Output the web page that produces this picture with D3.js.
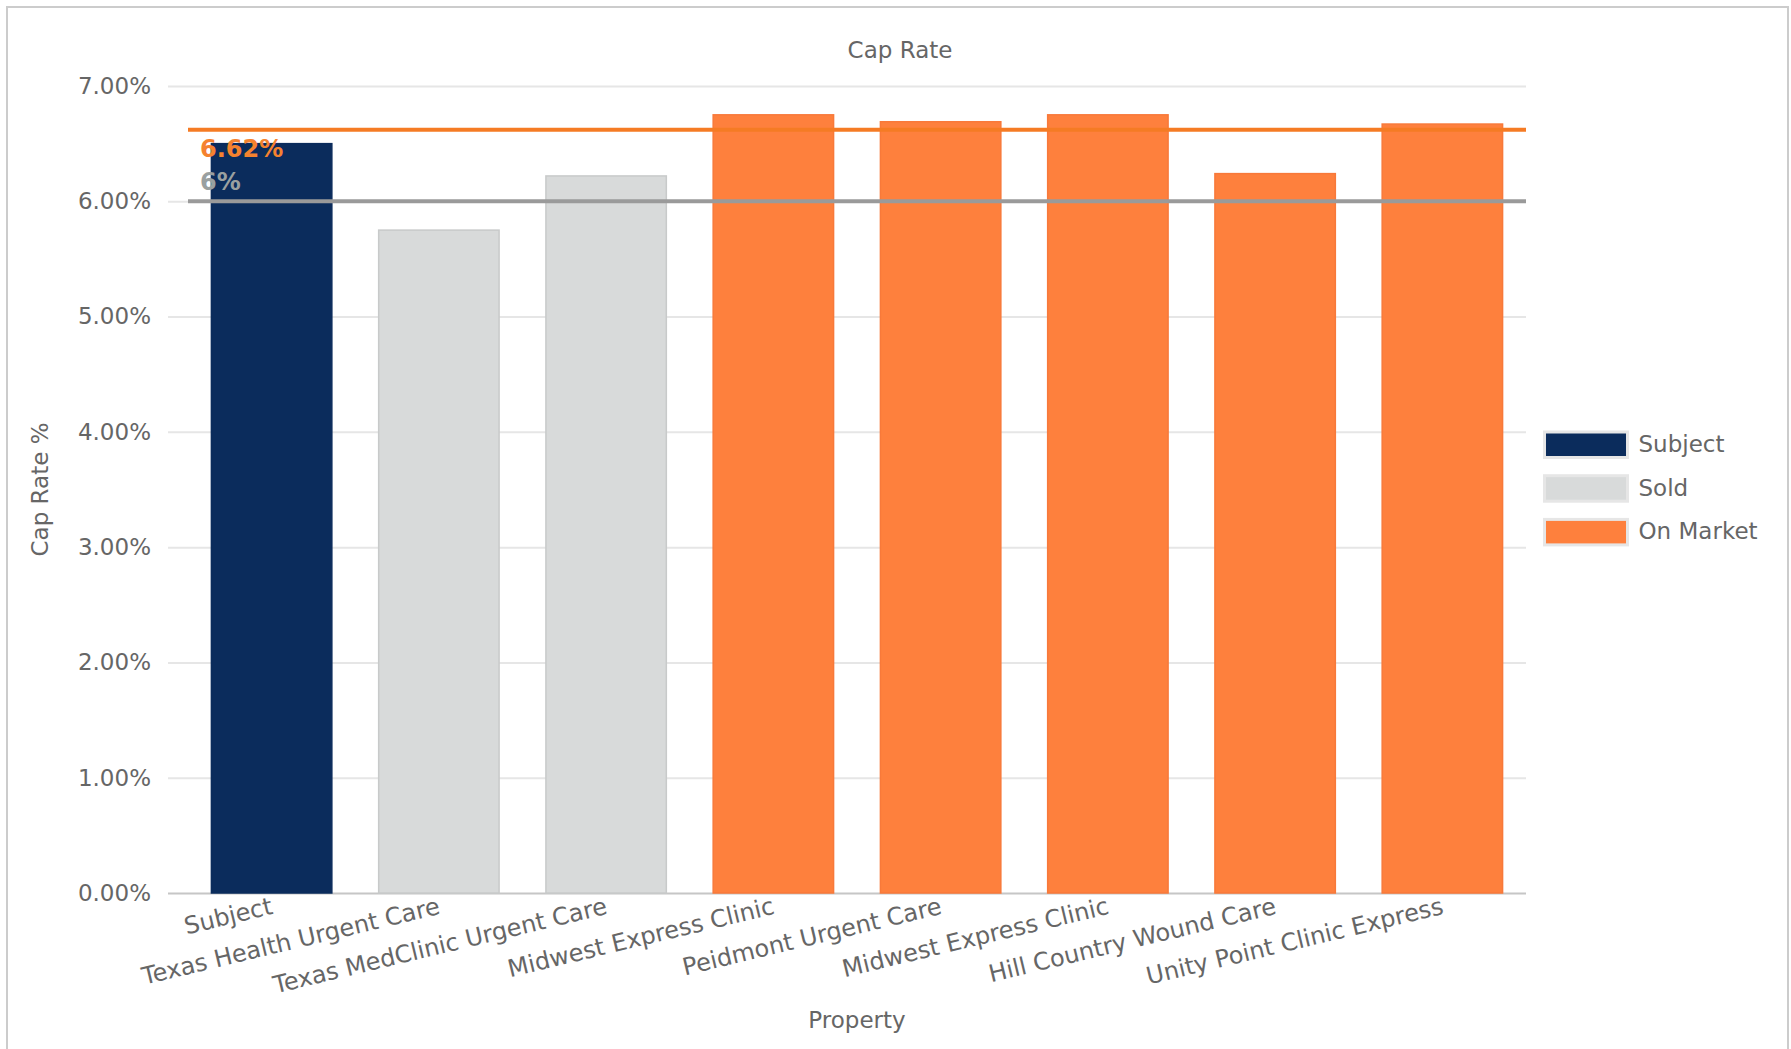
<!DOCTYPE html>
<html>
<head>
<meta charset="utf-8">
<script src="https://cdn.jsdelivr.net/npm/d3@7"></script>
<style>
  body { margin: 0; background: #fff; }
  svg text { font-family: "DejaVu Sans", Verdana, sans-serif; }
</style>
</head>
<body>
<svg id="canvas"></svg>
<script>
// chart data
let properties = [
    "Subject",
    "Texas Health Urgent Care",
    "Texas MedClinic Urgent Care",
    "Midwest Express Clinic",
    "Peidmont Urgent Care",
    "Midwest Express Clinic",
    "Hill Country Wound Care",
    "Unity Point Clinic Express"
]
let capRates = [6.50, 5.75, 6.22, 6.75, 6.69, 6.75, 6.24, 6.67]
let statuses = ["Subject", "Sold", "Sold", "On Market", "On Market", "On Market", "On Market", "On Market"]

let legendNames = ["Subject", "Sold", "On Market"]
let yTicks = [0, 1, 2, 3, 4, 5, 6, 7]

let refValues = [6.62, 6]
let refLabels = ["6.62%", "6%"]

// colours
let barColors = { "Subject": "#0b2c5c", "Sold": "#d8dada", "On Market": "#fe803d" }
let barStrokes = { "Subject": "#0b2c5c", "Sold": "#c8caca", "On Market": "#f8793a" }
let refColors = ["#f57b24", "#9a9a9a"]
let refLabelColors = ["#f5822f", "#9aa0a0"]

let width = 1791
let height = 1049
let fontSize = 23

let plotLeft = 188
let plotRight = 1526
let gridLeft = 168
let plotTop = 86
let plotBottom = 893

let canvas = d3.select("#canvas")
    .attr("width", width)
    .attr("height", height)

// outer frame
canvas.append("rect")
    .attr("x", 7)
    .attr("y", 7)
    .attr("width", 1781)
    .attr("height", 1070)
    .attr("fill", "none")
    .attr("stroke", "#cccccc")
    .attr("stroke-width", 2)

let xScale = d3.scaleBand()
    .domain(d3.range(properties.length))
    .range([plotLeft, plotRight])
    .paddingInner(0.28)
    .paddingOuter(0.14)

let yScale = d3.scaleLinear()
    .domain([0, 7])
    .range([plotBottom, plotTop])

// y axis with gridlines
let yAxis = d3.axisLeft(yScale)
    .tickValues(yTicks)
    .tickFormat(d => d.toFixed(2) + "%")
    .tickSizeInner(-(plotRight - gridLeft))
    .tickSizeOuter(0)
    .tickPadding(17)

let yG = canvas.append("g")
    .attr("transform", "translate(" + gridLeft + ",0)")
    .call(yAxis)
yG.select(".domain").remove()
yG.selectAll(".tick line")
    .attr("stroke", d => d === 0 ? "#c6c6c6" : "#e6e6e6")
    .attr("stroke-width", 2)
yG.selectAll(".tick text")
    .attr("fill", "#666")
    .style("font-size", fontSize + "px")

// bars
canvas.selectAll(".bar")
    .data(capRates)
    .enter()
    .append("rect")
    .attr("class", "bar")
    .attr("x", (d, i) => xScale(i))
    .attr("y", d => yScale(d))
    .attr("width", xScale.bandwidth())
    .attr("height", d => plotBottom - yScale(d))
    .attr("fill", (d, i) => barColors[statuses[i]])
    .attr("stroke", (d, i) => barStrokes[statuses[i]])
    .attr("stroke-width", 1.5)

// x axis labels
let xAxis = d3.axisBottom(xScale)
    .tickSize(0)
    .tickFormat(i => properties[i])

let xG = canvas.append("g")
    .attr("transform", "translate(0," + plotBottom + ")")
    .call(xAxis)
xG.select(".domain").remove()
xG.selectAll(".tick text")
    .attr("fill", "#666")
    .style("font-size", "24px")
    .attr("text-anchor", "end")
    .attr("x", 0)
    .attr("y", 0)
    .attr("dy", "0.75em")
    .attr("transform", "translate(-2,3) rotate(-13.5)")

// reference lines
canvas.selectAll(".ref-line")
    .data(refValues)
    .enter()
    .append("line")
    .attr("class", "ref-line")
    .attr("x1", plotLeft)
    .attr("x2", plotRight)
    .attr("y1", d => yScale(d))
    .attr("y2", d => yScale(d))
    .attr("stroke", (d, i) => refColors[i])
    .attr("stroke-width", 4)

canvas.selectAll(".ref-label")
    .data(refValues)
    .enter()
    .append("text")
    .attr("class", "ref-label")
    .attr("x", plotLeft + 12)
    .attr("y", (d, i) => i === 0 ? yScale(d) + 27 : yScale(d) - 11)
    .attr("fill", (d, i) => refLabelColors[i])
    .style("font-size", "24px")
    .style("font-weight", "bold")
    .text((d, i) => refLabels[i])

// titles
canvas.append("text")
    .attr("x", 900)
    .attr("y", 58)
    .attr("text-anchor", "middle")
    .attr("fill", "#666")
    .style("font-size", fontSize + "px")
    .text("Cap Rate")

canvas.append("text")
    .attr("x", (plotLeft + plotRight) / 2)
    .attr("y", 1028)
    .attr("text-anchor", "middle")
    .attr("fill", "#666")
    .style("font-size", fontSize + "px")
    .text("Property")

canvas.append("text")
    .attr("transform", "translate(48," + ((plotTop + plotBottom) / 2) + ") rotate(-90)")
    .attr("text-anchor", "middle")
    .attr("fill", "#666")
    .style("font-size", fontSize + "px")
    .text("Cap Rate %")

// legend
let legend = canvas.append("g")
    .attr("transform", "translate(1544.5,432)")

let legendRows = legend.selectAll("g")
    .data(legendNames)
    .enter()
    .append("g")
    .attr("transform", (d, i) => "translate(0," + (i * 43.7) + ")")

legendRows.append("rect")
    .attr("width", 83)
    .attr("height", 25.5)
    .attr("fill", d => barColors[d])
    .attr("stroke", "#e6e6e6")
    .attr("stroke-width", 3)

legendRows.append("text")
    .attr("x", 94)
    .attr("y", 12)
    .attr("dy", "0.35em")
    .attr("fill", "#666")
    .style("font-size", fontSize + "px")
    .text(d => d)
</script>
</body>
</html>
